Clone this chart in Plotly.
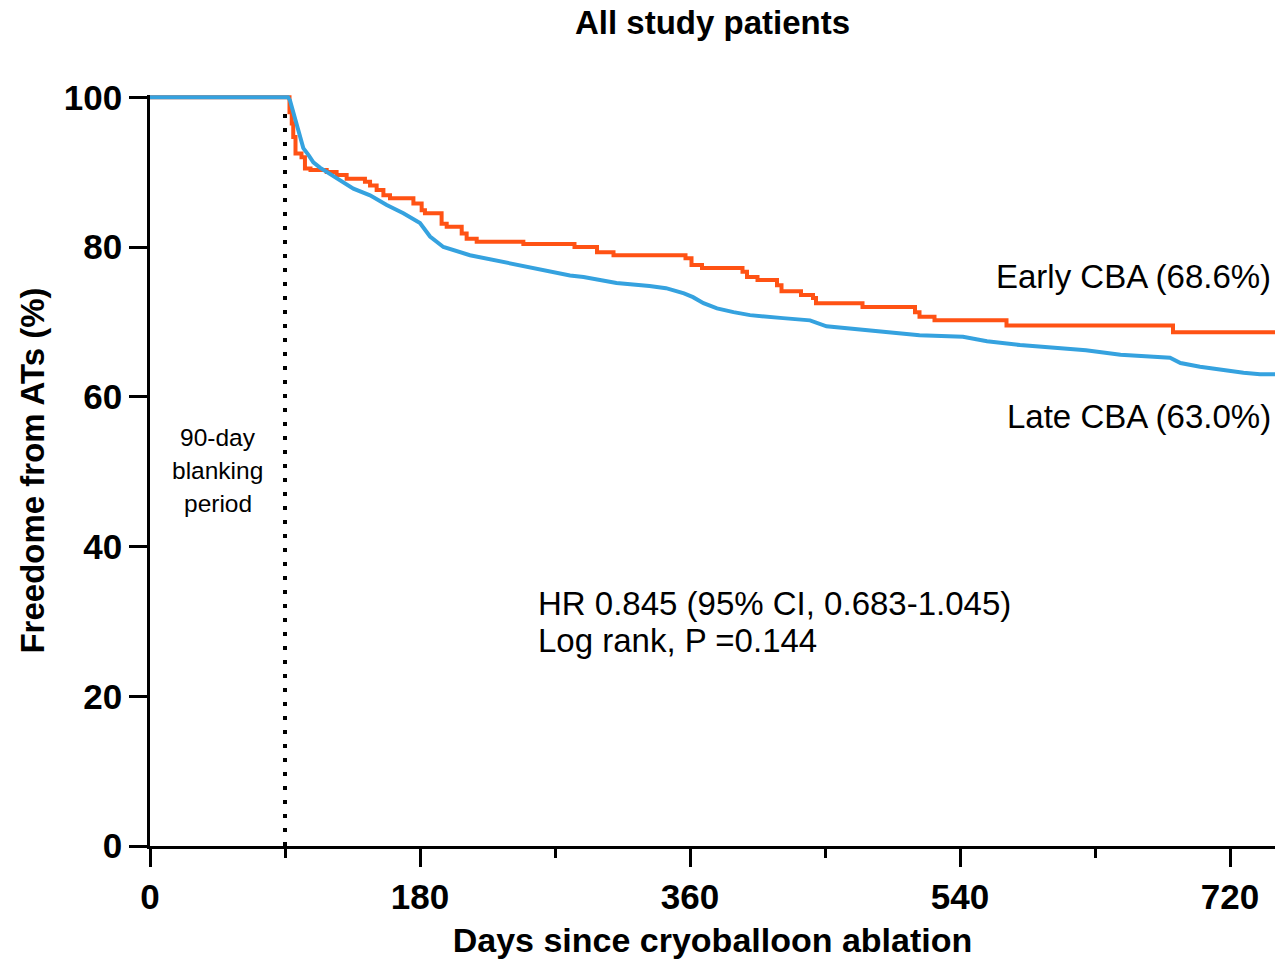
import plotly.graph_objects as go

# Early CBA (orange) Kaplan-Meier steps
early_days = [0, 92, 93, 94.5, 95.5, 97, 101, 103.3, 107, 117.8, 124.4, 131.1, 143.3, 146.7, 151.1,
              155.6, 160, 175.6, 181.1, 183.3, 194.4, 197.8, 207.8, 211.1, 217.8, 248.9, 283, 298,
              309, 357, 361, 368, 395, 398, 405, 418, 421, 434, 442, 444, 475, 510, 513, 523, 571,
              682, 750]
early_surv = [100, 100, 98.0, 96.5, 94.7, 92.5, 92.0, 90.5, 90.3, 90.0, 89.6, 89.1, 88.7, 88.2, 87.6,
              86.9, 86.5, 85.8, 84.9, 84.5, 83.1, 82.7, 81.8, 81.1, 80.7, 80.4, 80.0, 79.3,
              78.9, 78.5, 77.6, 77.2, 76.7, 76.0, 75.6, 74.9, 74.1, 73.6, 73.2, 72.5, 72.0, 71.3, 70.7,
              70.2, 69.5, 68.6, 68.6]

# Late CBA (blue)
late_days = [0, 92, 93.3, 95.6, 97.8, 100, 102.2, 105.6, 108.9, 113.3, 124.4, 135.6, 146.7, 157.8,
             168.9, 180, 186.7, 195.6, 213.3, 235.6, 257.8, 280, 289, 311, 333, 344, 356, 362, 369,
             378, 389, 400, 422, 440, 451, 467, 491, 513, 542, 558, 580, 602, 624, 647, 669, 680,
             687, 700, 729, 740, 750]
late_surv = [100, 100, 99.6, 97.9, 96.0, 94.5, 93.2, 92.3, 91.3, 90.6, 89.2, 87.8, 86.9, 85.6,
             84.5, 83.2, 81.4, 80.0, 78.9, 78.0, 77.2, 76.2, 76.0, 75.2, 74.8, 74.5, 73.8, 73.3, 72.5,
             71.8, 71.3, 70.9, 70.5, 70.2, 69.4, 69.1, 68.6, 68.2, 68.0, 67.4, 66.9, 66.5, 66.2, 65.6,
             65.3, 65.2, 64.5, 64.0, 63.2, 63.0, 63.0]

x_ticks = [0, 180, 360, 540, 720]
y_ticks = [0, 20, 40, 60, 80, 100]
blanking_day = 90
blanking_lines = ["90-day", "blanking", "period"]
stats_lines = ["HR 0.845 (95% CI, 0.683-1.045)", "Log rank, P =0.144"]

ORANGE = "#FF5214"
BLUE = "#35A2DF"
FONT = "Liberation Sans, Arial, sans-serif"

fig = go.Figure()
fig.add_trace(go.Scatter(x=early_days, y=early_surv, mode="lines", line=dict(color=ORANGE, width=4, shape="hv"),
                         name="Early CBA"))
fig.add_trace(go.Scatter(x=late_days, y=late_surv, mode="lines", line=dict(color=BLUE, width=4, shape="linear"),
                         name="Late CBA"))

fig.add_shape(type="line", x0=blanking_day, x1=blanking_day, y0=0, y1=98, xref="x", yref="y",
              line=dict(color="black", width=4, dash="4px,10px"), layer="below")

fig.add_annotation(x=0.998, xref="paper", y=76.1, yref="y", text="Early CBA (68.6%)", showarrow=False,
                   xanchor="right", yanchor="middle", font=dict(family=FONT, size=33, color="black"))
fig.add_annotation(x=0.998, xref="paper", y=57.3, yref="y", text="Late CBA (63.0%)", showarrow=False,
                   xanchor="right", yanchor="middle", font=dict(family=FONT, size=33, color="black"))
for txt, yv in zip(stats_lines, [32.4, 27.5]):
    fig.add_annotation(x=257.3, xref="x", y=yv, yref="y", text=txt, showarrow=False,
                       xanchor="left", yanchor="middle", font=dict(family=FONT, size=33, color="black"))
for txt, yv in zip(blanking_lines, [54.6, 50.1, 45.7]):
    fig.add_annotation(x=45.3, xref="x", y=yv, yref="y", text=txt, showarrow=False,
                       xanchor="center", yanchor="middle", font=dict(family=FONT, size=24.5, color="black"))

fig.update_layout(
    width=1276, height=963,
    margin=dict(l=150, r=1, t=95, b=117, autoexpand=False),
    paper_bgcolor="white", plot_bgcolor="white",
    showlegend=False,
    title=dict(text="<b>All study patients</b>", x=712.5 / 1276, xanchor="center", y=1 - 22 / 963,
               yanchor="middle", font=dict(family=FONT, size=33, color="black")),
    xaxis=dict(range=[0, 750], tickvals=x_ticks, ticks="outside", ticklen=18, tickwidth=2.5,
               tickcolor="black", showline=True, linecolor="black", linewidth=2.5, showgrid=False,
               zeroline=False, automargin=False,
               minor=dict(dtick=90, tick0=0, ticks="outside", ticklen=9, tickwidth=2.5, tickcolor="black"),
               tickfont=dict(family=FONT, size=35, color="black", weight="bold"),
               title=dict(text="<b>Days since cryoballoon ablation</b>", standoff=14,
                          font=dict(family=FONT, size=34, color="black"))),
    yaxis=dict(range=[0, 100.3], tickvals=y_ticks, ticks="outside", ticklen=18, tickwidth=2.5,
               tickcolor="black", showline=True, linecolor="black", linewidth=2.5, showgrid=False,
               zeroline=False, automargin=False,
               tickfont=dict(family=FONT, size=35, color="black", weight="bold"),
               title=dict(text="<b>Freedome from ATs (%)</b>", standoff=10,
                          font=dict(family=FONT, size=33, color="black"))),
)

fig.write_html("out.html", config={"displayModeBar": False},
               post_script="document.body.style.margin='0';")
